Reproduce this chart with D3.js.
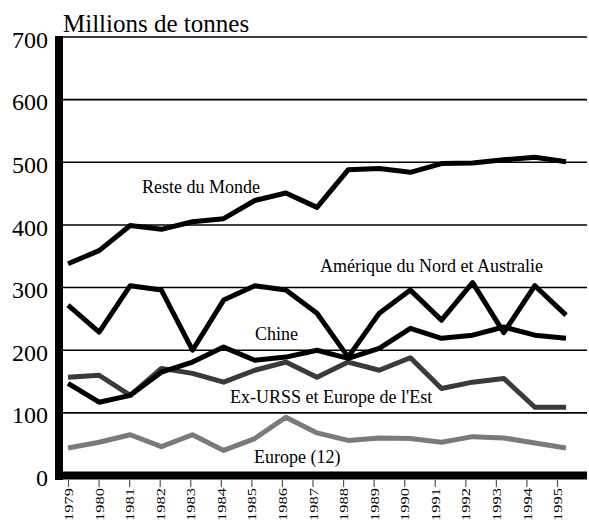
<!DOCTYPE html>
<html>
<head>
<meta charset="utf-8">
<script src="https://cdn.jsdelivr.net/npm/d3@7"></script>
<style>
	body { margin: 0; background: #fff; }
	svg { display: block; }
	text { font-family: "Liberation Serif", "DejaVu Serif", serif; fill: #000; }
</style>
</head>
<body>
<div id="chart"></div>
<script>
var years = [1979, 1980, 1981, 1982, 1983, 1984, 1985, 1986, 1987, 1988, 1989, 1990, 1991, 1992, 1993, 1994, 1995];
var yTicks = [0, 100, 200, 300, 400, 500, 600, 700];

var resteMonde = [338, 359, 399, 393, 405, 410, 439, 451, 428, 488, 490, 484, 498, 499, 504, 508, 501];
var ameriqueAustralie = [272, 229, 303, 296, 200, 280, 303, 296, 259, 189, 259, 296, 248, 308, 228, 303, 256];
var chine = [147, 117, 128, 165, 181, 205, 184, 189, 200, 187, 203, 235, 219, 224, 237, 224, 219];
var exUrss = [157, 160, 128, 171, 163, 149, 168, 181, 157, 181, 168, 188, 139, 149, 155, 109, 109];
var europe12 = [44, 53, 65, 46, 65, 40, 59, 93, 68, 56, 60, 59, 53, 62, 60, 52, 44];

var series = [
	{name: "Europe (12)", values: europe12, color: "#7a7a7a", lx: 254, ly: 463},
	{name: "Ex-URSS et Europe de l'Est", values: exUrss, color: "#3a3a3a", lx: 230, ly: 403},
	{name: "Chine", values: chine, color: "#000", lx: 255, ly: 340},
	{name: "Amérique du Nord et Australie", values: ameriqueAustralie, color: "#000", lx: 320, ly: 272},
	{name: "Reste du Monde", values: resteMonde, color: "#000", lx: 142, ly: 193}
];

var width = 589;
var height = 522;

var svg = d3.select("#chart").append("svg")
	.attr("width", width)
	.attr("height", height);

// lines run slightly wider than the year ticks in the original
var x = d3.scaleLinear().domain([1979, 1995]).range([68, 566]);
var xTick = d3.scaleLinear().domain([1979, 1995]).range([68, 557]);
var y = d3.scaleLinear().domain([0, 700]).range([475.5, 37]);

// gridlines
svg.append("g")
	.selectAll("line")
	.data(yTicks.filter(function(d) { return d > 0; }))
	.enter().append("line")
	.attr("x1", 59)
	.attr("x2", 587)
	.attr("y1", function(d) { return y(d); })
	.attr("y2", function(d) { return y(d); })
	.attr("stroke", "#000")
	.attr("stroke-width", 1.6);

// y labels
var yAxis = svg.append("g")
	.attr("transform", "translate(48,0)")
	.call(d3.axisLeft(y).tickValues(yTicks).tickSize(0).tickPadding(0));
yAxis.select(".domain").remove();
yAxis.selectAll("text")
	.style("font-family", "'Liberation Serif', serif")
	.style("font-size", "24px")
	.attr("dy", "0.42em");

// year ticks and labels
var xAxis = svg.append("g")
	.attr("transform", "translate(0,480)")
	.call(d3.axisBottom(xTick).tickValues(years).tickSize(7).tickFormat(d3.format("d")));
xAxis.select(".domain").remove();
xAxis.selectAll("line").attr("stroke", "#555").attr("stroke-width", 1.2);
xAxis.selectAll("text")
	.style("font-family", "'Liberation Serif', serif")
	.style("font-size", "13px")
	.attr("text-anchor", "end")
	.attr("transform", "rotate(-90)")
	.attr("x", -8)
	.attr("y", 0)
	.attr("dy", "0.35em")
	.attr("textLength", 33)
	.attr("lengthAdjust", "spacingAndGlyphs");

// series
var line = d3.line()
	.x(function(d, i) { return x(years[i]); })
	.y(function(d) { return y(d); });

svg.append("g")
	.selectAll("path")
	.data(series)
	.enter().append("path")
	.attr("d", function(s) { return line(s.values); })
	.attr("fill", "none")
	.attr("stroke", function(s) { return s.color; })
	.attr("stroke-width", 5)
	.attr("stroke-linejoin", "round")
	.attr("stroke-linecap", "butt");

svg.append("g")
	.selectAll("text")
	.data(series)
	.enter().append("text")
	.attr("x", function(s) { return s.lx; })
	.attr("y", function(s) { return s.ly; })
	.style("font-size", "18px")
	.text(function(s) { return s.name; });

// thick axes
svg.append("line")
	.attr("x1", 59).attr("x2", 59)
	.attr("y1", y(700) - 1).attr("y2", 480)
	.attr("stroke", "#000").attr("stroke-width", 8);
svg.append("line")
	.attr("x1", 55).attr("x2", 587)
	.attr("y1", y(0)).attr("y2", y(0))
	.attr("stroke", "#000").attr("stroke-width", 8);

svg.append("text")
	.attr("x", 63)
	.attr("y", 32)
	.style("font-size", "25px")
	.text("Millions de tonnes");
</script>
</body>
</html>
